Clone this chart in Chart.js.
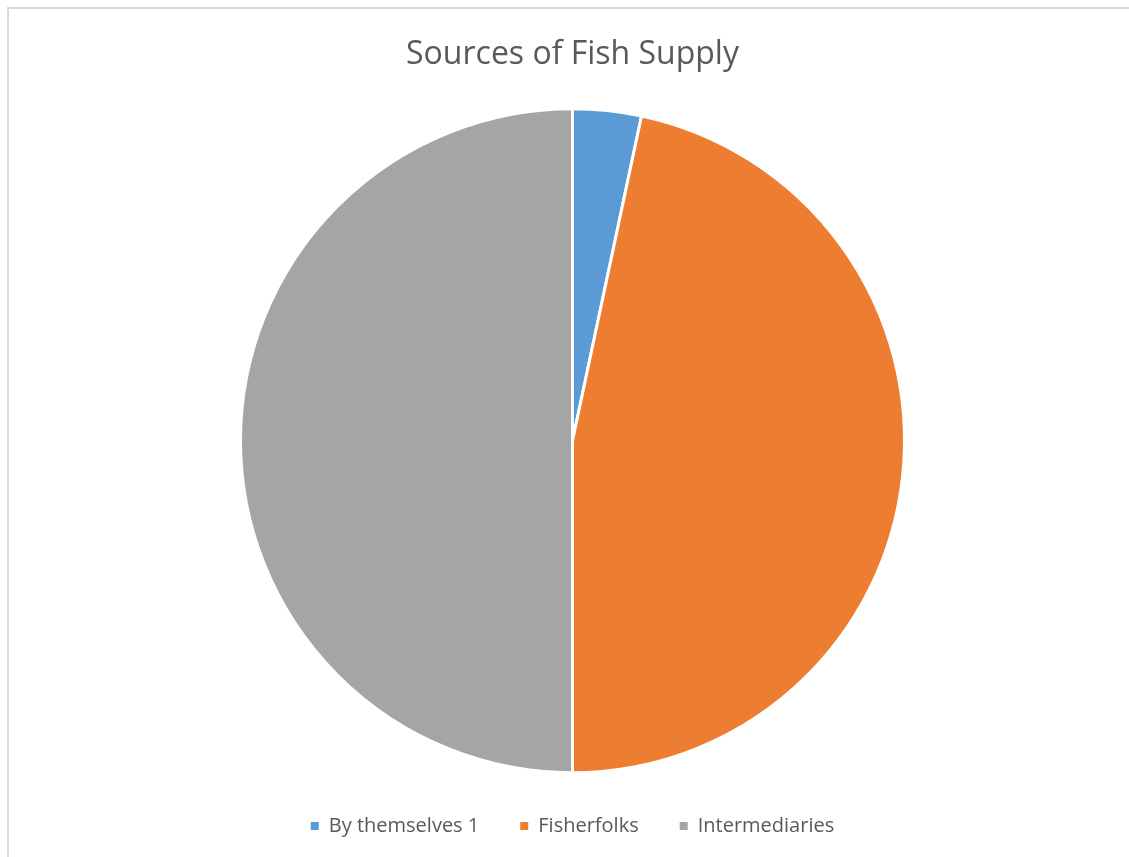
<!DOCTYPE html>
<html>
<head>
<meta charset="utf-8">
<script src="https://cdn.jsdelivr.net/npm/chart.js@4"></script>
<style>
  html, body { margin: 0; padding: 0; background: #fff; overflow: hidden; width: 1129px; height: 857px; }
  #frame { position: absolute; left: 7px; top: 7px; width: 1140px; height: 870px; border: 2px solid #d9d9d9; box-sizing: border-box; }
  #wrap { position: absolute; left: 8px; top: 8px; width: 1129px; height: 838px; }
</style>
</head>
<body>
<div id="frame"></div>
<div id="wrap"><canvas id="c"></canvas></div>
<script>
const categories = ["By themselves 1", "Fisherfolks", "Intermediaries"];
const values = [1, 14, 15];
const colors = ["#5b9bd5", "#ed7d31", "#a5a5a5"];
const titleText = "Sources of Fish Supply";

new Chart(document.getElementById("c"), {
  type: "pie",
  data: {
    labels: categories,
    datasets: [{
      data: values,
      backgroundColor: colors,
      borderColor: "#ffffff",
      borderWidth: 3,
      radius: 332
    }]
  },
  options: {
    responsive: true,
    maintainAspectRatio: false,
    animation: false,
    layout: { padding: 0 },
    plugins: {
      title: {
        display: true,
        text: titleText,
        color: "#595959",
        font: { family: "'Open Sans', sans-serif", size: 32, weight: "normal" },
        padding: { top: 28, bottom: 32 }
      },
      legend: {
        display: true,
        position: "bottom",
        labels: {
          color: "#595959",
          font: { family: "'Open Sans', sans-serif", size: 20 },
          boxWidth: 8,
          boxHeight: 8,
          padding: 41,
          generateLabels(chart) {
            const items = Chart.overrides.pie.plugins.legend.labels.generateLabels(chart);
            items.forEach(it => { it.lineWidth = 0; it.strokeStyle = it.fillStyle; });
            return items;
          }
        }
      },
      tooltip: { enabled: false }
    }
  }
});
</script>
</body>
</html>
